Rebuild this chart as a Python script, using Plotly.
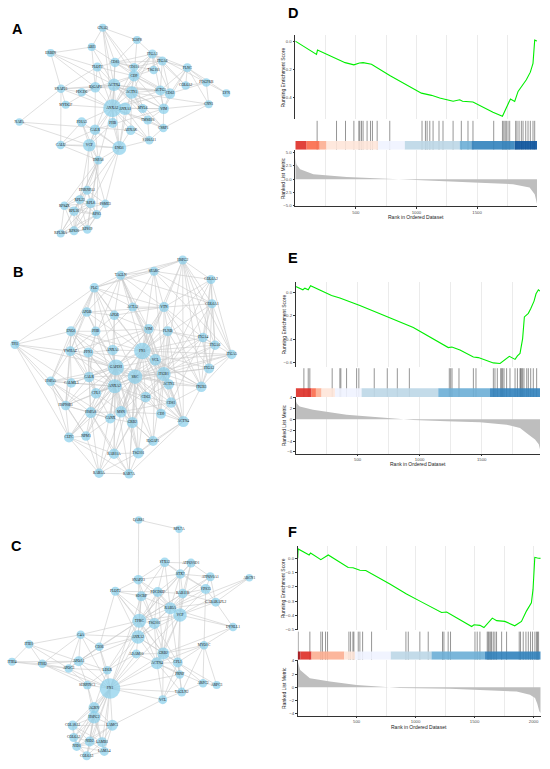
import plotly.graph_objects as go

W, H = 550, 769

# ---------------- network A ----------------
A_genes = ["GNAQ","IGSF8","ABI1","ERBIN","ITGA3","ITGA6","CD81","CD151","FLOT1","TSG101",
           "FLNC","CD9","PDGFRB","LYN","COL6A2","IQGAP1","ACTN4","SNAP23","PDCD6","ACTN1",
           "ACTG1","CD63","MYDGF","ANXA2","ANXA1","MYL6","VIM","CNN1","NAPA","PDIA3",
           "PHB","TMSB10","CSRP1","CALR","AHNAK","S100A11","CALU","VCP","ENO1","HSPA8",
           "HNRNPA1","RPL23","RPL8","PSME3","RPS4X","RPL30","RPS3","RPL36A","RPS20","RPS19"]
A_x = [102.7,137,91.7,50.7,152.3,162.3,115,134,97.3,153.7,187.3,134,206.3,226.3,185.7,95.3,114,61,81.7,131.7,
       160.3,170,65.7,112.3,125,142.7,163.7,208.7,19.3,81.7,112.7,147.7,163.3,95,130.7,149.3,60.7,89.3,119.3,98.3,
       87,79.7,90.7,105.3,64.3,74,96.7,60.7,74,87.3]
A_y = [26,38.3,45.3,51.3,52.3,59.3,60.7,65.7,65.3,68.3,66,74.3,81,91.7,84,85.7,83.3,87.3,90.7,91,
       89,92,103.3,106.7,107.3,107,107.3,102.7,120.7,120.7,121.7,118.7,126.7,128.3,129,139,143.7,144,146.7,159,
       189.3,198.7,202.3,202.7,204.7,210.3,213.7,232.7,230,228.7]
A_degree = [4,4,4,4,6,6,7,5,6,5,6,10,5,4,5,9,13,5,5,13,8,9,4,24,13,6,9,4,3,7,
            8,6,5,9,7,5,5,13,16,5,6,6,8,5,5,7,6,4,6,5]
A_links = [
    ("ANXA2", "ACTN4 ACTN1 CD9 CD81 IQGAP1 ANXA1 MYL6 VIM PHB CALR ENO1 VCP PDIA3 AHNAK S100A11 TMSB10 CD63 ACTG1 FLOT1 PDCD6 SNAP23 CD151 ITGA3 GNAQ CSRP1 HSPA8 MYDGF"),
    ("ENO1", "PHB CALR VCP PDIA3 HSPA8 AHNAK S100A11 ANXA1 HNRNPA1 RPL8 PSME3 CD9 ACTN4 CALU"),
    ("VCP", "CALR PDIA3 HSPA8 HNRNPA1 RPL23 PSME3 CALU PHB ACTN4 NAPA"),
    ("HSPA8", "PDIA3 CALR HNRNPA1 RPL23 RPS4X RPL30 RPL8 RPS3 RPS19 CALU"),
    ("HNRNPA1", "RPL23 RPL8 PSME3 RPS4X RPL30 RPS3 RPS20"),
    ("RPL23", "RPL8 RPS4X RPL30 RPS3 RPL36A RPS20 RPS19"),
    ("RPL8", "PSME3 RPS4X RPL30 RPS3 RPL36A RPS20 RPS19"),
    ("PSME3", "RPS3 RPL30 RPS19"),
    ("RPS4X", "RPL30 RPS3 RPL36A RPS20 RPS19"),
    ("RPL30", "RPS3 RPL36A RPS20 RPS19"),
    ("RPS3", "RPL36A RPS20 RPS19"),
    ("RPL36A", "RPS20 RPS19"),
    ("RPS20", "RPS19"),
    ("CD9", "CD81 CD151 CD63 ITGA3 ITGA6 TSG101 ACTN1 ACTN4 FLOT1 IQGAP1 IGSF8 VIM ACTG1 MYL6 GNAQ"),
    ("CD81", "CD151 IGSF8 ITGA3 ITGA6 FLOT1 CD63 TSG101 ABI1 GNAQ ACTN4"),
    ("ITGA3", "ITGA6 CD151 FLNC PDGFRB COL6A2 IGSF8 TSG101 ACTN1 VIM CD63"),
    ("ITGA6", "FLNC CD151 ACTG1 COL6A2 CD63"),
    ("FLNC", "PDGFRB COL6A2 ACTG1 CD63 VIM CNN1 LYN"),
    ("PDGFRB", "LYN COL6A2 CNN1 CD63"),
    ("VIM", "CNN1 ACTG1 CD63 MYL6 TMSB10 CSRP1 ACTN1 ACTN4 CALR"),
    ("ACTN4", "ACTN1 IQGAP1 ACTG1 MYL6 CSRP1 TMSB10 FLOT1 GNAQ ABI1 ERBIN SNAP23 CD63 PDCD6 PHB"),
    ("ACTN1", "ACTG1 MYL6 CSRP1 TMSB10 CNN1 AHNAK"),
    ("IQGAP1", "FLOT1 ABI1 PDCD6 SNAP23 ERBIN ACTG1 CALR MYDGF"),
    ("SNAP23", "ERBIN NAPA FLOT1 PDCD6 CALU MYDGF"),
    ("ERBIN", "ABI1 FLOT1"),
    ("GNAQ", "IGSF8 CD151 ABI1"),
    ("CALU", "CALR PDIA3"),
    ("CSRP1", "TMSB10 CNN1 S100A11"),
    ("S100A11", "AHNAK ANXA1 TMSB10"),
    ("NAPA", "AHNAK"),
]

# ---------------- network B ----------------
B_genes = ["HSPG2","TAGLN","SPARC","COL6A2","PLG","ACTA2","VTN","COL6A1","APOB","APOE",
           "VIM","FLNB","ENO1","PHB","ITGA4","ITGA6","TPI1","YWHAZ","PFN1","ANXA1",
           "FN1","VCL","ITGA5","GAPDH","ITGA2","SRC","ITGB1","HSPA5","CALR","CALML3",
           "ACTN1","ANXA2","ITGB3","CFL1","CD63","CD81","HSP90B1","HSPA8","MSN","CD9",
           "CANX","ACTN4","GRB2","CLTC","NPM1","IQGAP1","RAB11A","TSG101","RAB5A","RAB7A"]
B_x = [182.7,120.7,154,211,94.3,132.7,164,212,86.7,114.3,148.7,167.7,71,95.7,203,215,15,70.3,88.3,112.7,
       142.3,155.3,231.7,116,209,135,163.7,50.7,89,71.3,168.7,114.7,201.3,96,145.7,171,65.7,90.7,121,161,
       110.3,183.3,132.3,69,86,153,114,138.3,99,129]
B_y = [259.3,274.7,270.7,279,287.3,306.7,306.7,303.3,311.7,315,328.7,331,331,331,337.3,345,344.3,351,352.3,349.7,
       350.7,359.7,354.3,367.3,368.3,376.7,374,381.3,377,383,384.3,386.3,386.7,393.3,397,402.7,405.7,412.7,412,414,
       418.7,421.7,422.7,437.7,436.3,441.3,454,453.3,473.7,474.3]
B_degree = [6,6,6,6,7,6,8,6,7,7,8,8,8,7,7,7,6,8,8,9,21,11,7,20,8,17,16,7,9,7,
            9,16,9,9,9,9,7,10,11,8,8,10,10,8,7,8,9,10,7,7]
B_links = [
    ("FN1", "HSPG2 TAGLN SPARC COL6A2 PLG VTN COL6A1 APOB APOE VIM FLNB ITGA4 ITGA6 ANXA1 VCL ITGA5 GAPDH ITGA2 SRC ITGB1 CALR ACTN1 ANXA2 ITGB3 CD63 CD81 HSPA8 MSN CD9 ACTN4 GRB2 ENO1"),
    ("GAPDH", "TPI1 ENO1 PHB YWHAZ PFN1 ANXA1 SRC ANXA2 CALR CALML3 HSPA5 CFL1 HSPA8 HSP90B1 MSN CANX GRB2 NPM1 CLTC VIM APOB PLG ACTN1 ITGB1 VCL IQGAP1 ACTN4 CD63 TSG101 RAB11A"),
    ("SRC", "ITGB1 ITGB3 ITGA2 ITGA5 ANXA2 GRB2 MSN CD63 CD81 CD9 ACTN1 ACTN4 VCL IQGAP1 TSG101 RAB11A RAB5A RAB7A CFL1 YWHAZ VTN PLG ITGA4 ITGA6 HSP90B1 CLTC CANX"),
    ("ITGB1", "ITGA4 ITGA6 ITGA5 ITGA2 ITGB3 VCL ACTN1 ACTN4 CD81 CD9 CD63 FLNB VTN COL6A1 COL6A2 SPARC HSPG2 TAGLN MSN IQGAP1 GRB2 VIM CALR ANXA2"),
    ("ANXA2", "ANXA1 CALR CFL1 HSPA8 MSN CANX CALML3 PFN1 YWHAZ HSP90B1 HSPA5 NPM1 CLTC RAB11A TSG101 RAB5A RAB7A GRB2 CD63 ACTN4 PHB ENO1 APOE"),
    ("VCL", "ACTN1 ACTN4 FLNB VIM TAGLN ACTA2 CFL1 PFN1 MSN IQGAP1 ITGB3 ITGA5 CD9"),
    ("HSPG2", "SPARC COL6A2 COL6A1 VTN TAGLN PLG ITGA6 ITGA5 ITGA2 ITGB3 ACTN4"),
    ("SPARC", "TAGLN COL6A2 COL6A1 VTN ACTA2 PLG ITGA5"),
    ("TAGLN", "PLG ACTA2 VIM VTN APOB APOE COL6A1 PFN1"),
    ("COL6A2", "COL6A1 ITGA4 ITGA6 ITGA5 ITGB3 VTN"),
    ("COL6A1", "ITGA4 ITGA6 ITGA5 ITGA2 VTN"),
    ("PLG", "APOB APOE ENO1 TPI1 VTN ACTA2 PHB HSPA5 YWHAZ"),
    ("APOB", "APOE ENO1 PHB VTN YWHAZ"),
    ("APOE", "VTN PHB ANXA1 VIM"),
    ("VTN", "ITGA4 ITGA2 ITGB3 FLNB VIM ACTA2"),
    ("VIM", "FLNB ACTA2 ANXA1 MSN CFL1 YWHAZ PHB ACTN4"),
    ("FLNB", "ITGA4 ITGA6 ITGB3 ACTN1 ACTN4"),
    ("ENO1", "PHB YWHAZ PFN1 TPI1 HSPA5 CALR HSP90B1 ANXA1"),
    ("TPI1", "YWHAZ HSPA5 CALML3 HSP90B1 CLTC"),
    ("YWHAZ", "PFN1 HSPA5 CALR CALML3 HSP90B1 CFL1 PHB"),
    ("PFN1", "ANXA1 CFL1 CALR HSPA8 ACTA2"),
    ("CALR", "CANX HSPA5 HSP90B1 HSPA8 CALML3 CFL1 PHB"),
    ("HSPA5", "CALML3 HSP90B1 HSPA8 CLTC NPM1 CANX"),
    ("HSP90B1", "HSPA8 CLTC NPM1 CANX CALML3"),
    ("HSPA8", "CLTC NPM1 CANX MSN RAB11A RAB5A RAB7A CFL1"),
    ("CLTC", "NPM1 RAB5A RAB11A RAB7A"),
    ("NPM1", "RAB5A CANX"),
    ("MSN", "CANX GRB2 CD9 CD81 IQGAP1 CFL1"),
    ("CD63", "CD81 CD9 TSG101 RAB11A GRB2 ACTN1"),
    ("CD81", "CD9 ITGB3 ACTN4 ITGA4"),
    ("ITGB3", "ITGA2 ITGA5 ACTN4 ITGA6 ACTN1"),
    ("ITGA2", "ITGA5 ITGA6 ITGA4"),
    ("ITGA4", "ITGA6 ITGA5"),
    ("ACTN4", "ACTN1 IQGAP1 TSG101 RAB7A CD9"),
    ("GRB2", "IQGAP1 TSG101 RAB11A RAB7A CANX"),
    ("TSG101", "RAB11A RAB7A RAB5A IQGAP1"),
    ("RAB11A", "RAB5A RAB7A"),
    ("RAB5A", "RAB7A"),
]

# ---------------- network C ----------------
C_genes = ["QARS1","RPL7A","STX12","ATP6V0D1","STX7","ATP6V0A1","ARCN1","SNAP23","FLOT2","SDCBP",
           "PDCD6IP","RAB11B","VPS35","GABARAPL2","RAB5A","VCP","TFRC","TSG101","DYNLL1","C4A",
           "ANXA2","MYO1C","ITIH1","CD36","ADAM10","GRB2","CFL1","ACTN4","ITIH4","ITIH2",
           "APOA1","APOC3","LDLR","PRNP","SERPINC1","FN1","ARPC2","ARPC3","TAGLN2","VCL",
           "AGRN","HSPG2","LAMC1","COL18A1","COL6A2","NID2","LAMB1","NID1","LAMA4","COL6A3"]
C_x = [138.7,179,164.7,191,180.3,210.3,249.3,138.3,115.3,141.3,157.7,182.7,205.7,215.7,170.3,180,139.3,154.3,233,80.7,
       138,204,29,99.3,136.3,163.3,177.7,157,12,42.3,78.7,68.7,107.3,179.7,87.3,110,203,216.7,181.7,162.7,
       94,94,112.3,72.7,73.7,89.7,102,76.7,104.3,86.7]
C_y = [520.7,530,563.3,564,575,577.7,578.7,580.7,592.3,597.3,593,594.7,590,603.3,609.3,616.3,622,624.7,628.3,636,
       638.3,646.7,645.7,648,655.3,655,664,664.7,663.3,665.3,662.7,670,671.7,676,686.7,690,684.7,686.7,693.7,701.3,
       709.3,719,727,727.3,739.3,743.3,744,748.3,753.3,757.7]
C_degree = [3,3,7,6,7,6,3,7,6,8,8,7,8,6,12,15,16,10,5,5,15,5,5,5,6,12,8,12,4,5,
            8,5,5,5,5,29,5,4,6,6,10,13,10,8,6,8,8,6,6,6]
C_links = [
    ("QARS1", "RPL7A SNAP23"),
    ("RPL7A", "VCP"),
    ("STX12", "STX7 SNAP23 ATP6V0D1 RAB5A VPS35 SDCBP PDCD6IP"),
    ("ATP6V0D1", "ATP6V0A1 STX7 RAB11B VCP TFRC"),
    ("STX7", "SNAP23 RAB11B RAB5A VPS35 TFRC PDCD6IP ATP6V0A1"),
    ("ATP6V0A1", "GABARAPL2 VPS35 RAB5A TFRC"),
    ("ARCN1", "VCP GABARAPL2 RAB5A"),
    ("SNAP23", "FLOT2 SDCBP PDCD6IP RAB5A TFRC TSG101"),
    ("FLOT2", "SDCBP PDCD6IP TFRC ANXA2 TSG101 GRB2 CD36"),
    ("SDCBP", "PDCD6IP TSG101 TFRC RAB5A ANXA2 FN1"),
    ("PDCD6IP", "TSG101 RAB5A VCP TFRC RAB11B ANXA2 GRB2"),
    ("RAB11B", "RAB5A VCP TFRC VPS35 GABARAPL2"),
    ("VPS35", "RAB5A VCP GABARAPL2 MYO1C"),
    ("GABARAPL2", "VCP DYNLL1 RAB5A"),
    ("RAB5A", "VCP TFRC TSG101 GRB2 ACTN4 CFL1 ANXA2 DYNLL1"),
    ("VCP", "TFRC TSG101 GRB2 ACTN4 CFL1 ANXA2 FN1 DYNLL1 PRNP"),
    ("TFRC", "TSG101 ANXA2 C4A CD36 GRB2 LDLR FN1 ACTN4 APOA1"),
    ("TSG101", "ANXA2 GRB2 ACTN4 CFL1"),
    ("DYNLL1", "MYO1C GRB2"),
    ("C4A", "ITIH1 ITIH2 APOA1 APOC3 FN1 CD36 ANXA2"),
    ("ANXA2", "ADAM10 GRB2 ACTN4 CD36 CFL1 FN1 LDLR APOA1"),
    ("MYO1C", "CFL1 ACTN4 ARPC2 ARPC3 GRB2 TAGLN2"),
    ("ITIH1", "ITIH4 ITIH2 APOA1 APOC3"),
    ("ITIH4", "ITIH2 APOA1 APOC3"),
    ("ITIH2", "APOA1 APOC3 SERPINC1 FN1"),
    ("CD36", "APOA1 LDLR FN1 APOC3"),
    ("ADAM10", "GRB2 ACTN4 FN1 LDLR"),
    ("GRB2", "ACTN4 CFL1 FN1 VCL PRNP"),
    ("ACTN4", "CFL1 FN1 VCL PRNP TAGLN2 ARPC2"),
    ("CFL1", "PRNP ARPC2 ARPC3 TAGLN2 VCL"),
    ("APOA1", "APOC3 LDLR SERPINC1 FN1"),
    ("APOC3", "LDLR SERPINC1 FN1"),
    ("LDLR", "FN1 SERPINC1 AGRN"),
    ("PRNP", "VCL TAGLN2 FN1"),
    ("SERPINC1", "FN1 HSPG2 AGRN"),
    ("FN1", "VCL AGRN HSPG2 LAMC1 COL18A1 COL6A2 NID2 LAMB1 NID1 LAMA4 COL6A3 TAGLN2"),
    ("ARPC2", "ARPC3 TAGLN2"),
    ("TAGLN2", "VCL"),
    ("VCL", "LAMC1"),
    ("AGRN", "HSPG2 LAMC1 COL18A1 NID2 LAMB1 NID1"),
    ("HSPG2", "LAMC1 COL18A1 COL6A2 NID2 LAMB1 NID1 LAMA4 COL6A3"),
    ("LAMC1", "LAMB1 LAMA4 NID2 NID1 COL18A1"),
    ("COL18A1", "COL6A2 NID1 NID2 LAMB1"),
    ("COL6A2", "NID1 COL6A3 NID2"),
    ("NID2", "LAMB1 NID1 LAMA4 COL6A3"),
    ("LAMB1", "LAMA4 NID1 COL6A3"),
    ("NID1", "COL6A3 LAMA4"),
    ("LAMA4", "COL6A3"),
]

# ---------------- GSEA D ----------------
D_n = 1994
D_es_rank = [1, 176, 184, 341, 412, 484, 530, 560, 629, 780, 1041, 1124, 1192, 1302, 1357, 1380, 1466,
             1631, 1709, 1775, 1810, 1838, 1874, 1906, 1939, 1961, 1975, 1994]
D_es = [0.0, -0.095, -0.064, -0.128, -0.154, -0.17, -0.156, -0.154, -0.166, -0.246, -0.372, -0.388, -0.407,
        -0.43, -0.42, -0.43, -0.435, -0.509, -0.537, -0.414, -0.431, -0.36, -0.312, -0.277, -0.222, -0.159, 0.007, 0.0]
D_hits = [181, 341, 415, 484, 525, 533, 547, 560, 593, 621, 637, 676, 780, 1046, 1074, 1088, 1110, 1137,
          1186, 1219, 1302, 1370, 1425, 1466, 1637, 1709, 1720, 1731, 1741, 1755, 1769, 1818, 1829, 1846,
          1865, 1879, 1901, 1920, 1939, 1961, 1975]
D_band_edges = [1, 94, 202, 258, 684, 904, 1357, 1453, 1810, 1994]
D_band_colors = ["#DE2D26", "#FB6A4A", "#FCAE91", "#FEE5D9", "#EFF3FF", "#BDD7E7", "#6BAED6", "#3182BD", "#08519C"]
D_metric_rank = [1, 10, 41, 150, 425, 700, 900, 1200, 1521, 1796, 1933, 1975, 1990, 1994]
D_metric = [4.0, 2.8, 1.87, 0.94, 0.43, 0.19, 0.0, -0.3, -0.64, -0.94, -1.57, -2.8, -4.0, -4.6]
D_es_ticks = [-0.4, -0.2, 0.0]
D_metric_ticks = [-5.0, -2.5, 0.0, 2.5, 5.0]
D_rank_ticks = [500, 1000, 1500]

# ---------------- GSEA E ----------------
E_n = 1970
E_es_rank = [1, 59, 75, 102, 121, 290, 357, 411, 518, 680, 949, 1231, 1260, 1325, 1433, 1473, 1594, 1648,
             1723, 1769, 1788, 1809, 1830, 1844, 1876, 1895, 1922, 1938, 1957, 1970]
E_es = [0.048, 0.02, 0.034, 0.02, 0.054, -0.028, -0.05, -0.07, -0.113, -0.183, -0.30, -0.47, -0.465, -0.49,
        -0.55, -0.555, -0.60, -0.605, -0.544, -0.57, -0.54, -0.52, -0.394, -0.21, -0.18, -0.14, -0.076, -0.014, 0.02, 0.008]
E_hits = [67, 102, 115, 295, 357, 365, 411, 492, 510, 634, 739, 820, 917, 1239, 1250, 1261, 1317, 1433,
          1454, 1594, 1607, 1626, 1653, 1661, 1669, 1680, 1701, 1728, 1769, 1788, 1809, 1814, 1822, 1830,
          1841, 1863, 1876, 1895, 1916, 1943]
E_band_edges = [1, 129, 164, 209, 317, 532, 1150, 1567, 1970]
E_band_colors = ["#DE2D26", "#FB6A4A", "#FCAE91", "#FEE5D9", "#EFF3FF", "#BDD7E7", "#6BAED6", "#3182BD"]
E_metric_rank = [1, 10, 33, 141, 411, 680, 949, 1218, 1486, 1701, 1809, 1876, 1930, 1960, 1970]
E_metric = [3.45, 2.9, 2.36, 1.76, 0.85, 0.36, -0.12, -0.36, -0.55, -0.97, -1.58, -2.8, -3.7, -4.6, -5.5]
E_es_ticks = [-0.6, -0.4, -0.2, 0.0]
E_metric_ticks = [-6, -4, -2, 0, 2, 4]
E_rank_ticks = [500, 1000, 1500]

# ---------------- GSEA F ----------------
F_n = 2060
F_es_rank = [1, 5, 98, 110, 197, 260, 429, 470, 528, 578, 782, 923, 1037, 1121, 1220, 1263, 1291, 1475,
             1495, 1545, 1579, 1650, 1687, 1756, 1840, 1897, 1939, 1981, 1995, 2010, 2032, 2060]
F_es = [0.0, 0.066, 0.024, 0.038, -0.009, 0.024, -0.064, -0.066, -0.083, -0.085, -0.18, -0.25, -0.30, -0.336,
        -0.38, -0.376, -0.39, -0.478, -0.466, -0.47, -0.485, -0.419, -0.437, -0.442, -0.473, -0.442, -0.37,
        -0.312, -0.218, 0.007, 0.002, 0.0]
F_hits = [5, 104, 197, 211, 237, 254, 435, 449, 469, 477, 514, 528, 551, 627, 918, 938, 1036, 1107, 1228,
          1240, 1276, 1296, 1503, 1522, 1545, 1607, 1616, 1624, 1636, 1644, 1658, 1672, 1686, 1729, 1771,
          1878, 1889, 1912, 1935, 1955, 1974, 1991, 2011, 2025, 2033, 2042]
F_band_edges = [1, 25, 118, 395, 486, 790, 1135, 1587, 2060]
F_band_colors = ["#A50F15", "#DE2D26", "#FCAE91", "#FEE5D9", "#EFF3FF", "#BDD7E7", "#6BAED6", "#3182BD"]
F_metric_rank = [1, 22, 104, 274, 500, 754, 867, 1291, 1573, 1856, 1969, 2012, 2031, 2048, 2060]
F_metric = [3.95, 2.6, 1.35, 0.85, 0.35, 0.05, -0.1, -0.25, -0.4, -0.65, -1.15, -1.65, -2.5, -3.65, -3.9]
F_es_ticks = [-0.5, -0.4, -0.3, -0.2, -0.1, 0.0]
F_metric_ticks = [-4, -2, 0, 2, 4]
F_rank_ticks = [500, 1000, 1500, 2000]

fig = go.Figure()
layout = {}
shapes = []
annotations = []


def px2x(a):
    return a / W


def px2y(b):
    return 1 - b / H


def xdom(a, b):
    return [max(0, px2x(a)), min(1, px2x(b))]


def ydom(top, bottom):
    return [max(0, px2y(bottom)), min(1, px2y(top))]


def names(k):
    if k == 1:
        return "x", "y", "xaxis", "yaxis"
    return f"x{k}", f"y{k}", f"xaxis{k}", f"yaxis{k}"


def note(text, x, y, size, angle=0, bold=False, color="#222222"):
    annotations.append(dict(text=f"<b>{text}</b>" if bold else text, x=px2x(x), y=px2y(y),
                            xref="paper", yref="paper", showarrow=False, textangle=angle,
                            xanchor="center", yanchor="middle",
                            font=dict(family="Liberation Sans, Arial", size=size, color=color)))


def add_network(k, genes, xs, ys, degree, links, box):
    left, top, right, bottom = box
    xa, ya, xk, yk = names(k)
    pos = dict(zip(genes, zip(xs, ys)))
    ex, ey = [], []
    for a, targets in links:
        for b in targets.split():
            if a in pos and b in pos:
                ex += [pos[a][0], pos[b][0], None]
                ey += [pos[a][1], pos[b][1], None]
    fig.add_trace(go.Scatter(x=ex, y=ey, mode="lines", line=dict(color="#C9C9C9", width=0.6),
                             hoverinfo="skip", showlegend=False, cliponaxis=False, xaxis=xa, yaxis=ya))
    fig.add_trace(go.Scatter(x=xs, y=ys, mode="markers+text", text=genes, textposition="middle center",
                             marker=dict(size=[6 + 0.5 * d for d in degree], color="#87CEEB", line=dict(width=0)),
                             textfont=dict(family="Liberation Serif", size=3.6, color="#1A1A1A"),
                             showlegend=False, cliponaxis=False, xaxis=xa, yaxis=ya))
    layout[xk] = dict(domain=xdom(left, right), range=[left, right], visible=False, anchor=ya)
    layout[yk] = dict(domain=ydom(top, bottom), range=[bottom, top], visible=False, anchor=xa)


tickfont = dict(family="Liberation Sans, Arial", size=4.3, color="#4D4D4D")
grid = dict(showgrid=True, gridcolor="#EBEBEB", gridwidth=0.5)
minor = dict(tickmode="linear", tick0=0, dtick=250, showgrid=True, gridcolor="#EBEBEB", gridwidth=0.5)


def add_gsea(k, geo, n, es_rank, es, hits, band_edges, band_colors, m_rank, m,
             es_ticks, m_ticks, rank_ticks, es_fmt, m_fmt):
    left, right = geo["x"]
    # running enrichment score
    xa, ya, xk, yk = names(k)
    fig.add_trace(go.Scatter(x=es_rank, y=es, mode="lines", line=dict(color="#00EE00", width=1.1),
                             showlegend=False, xaxis=xa, yaxis=ya))
    layout[xk] = dict(domain=xdom(left, right), range=[1, n], anchor=ya, showticklabels=False, ticks="",
                      tickmode="array", tickvals=rank_ticks, zeroline=False, minor=minor, **grid)
    layout[yk] = dict(domain=ydom(*geo["score"]), range=list(geo["score_range"]), anchor=xa,
                      tickmode="array", tickvals=es_ticks, tickformat=es_fmt, tickfont=tickfont,
                      ticks="outside", ticklen=2, tickwidth=0.5, tickcolor="#333333",
                      showline=True, linecolor="#333333", linewidth=0.6, showgrid=False, zeroline=False)
    # hits + colour band
    xa, ya, xk, yk = names(k + 1)
    hx, hy = [], []
    for h in hits:
        hx += [h, h, None]
        hy += [0, 1, None]
    fig.add_trace(go.Scatter(x=hx, y=hy, mode="lines", line=dict(color="rgba(0,0,0,0.6)", width=0.7),
                             showlegend=False, xaxis=xa, yaxis=ya))
    for i, col in enumerate(band_colors):
        shapes.append(dict(type="rect", xref=xa, yref=ya, x0=band_edges[i], x1=band_edges[i + 1],
                           y0=0, y1=0.3, fillcolor=col, opacity=0.9, line=dict(width=0), layer="above"))
    layout[xk] = dict(domain=xdom(left, right), range=[1, n], anchor=ya, visible=False)
    layout[yk] = dict(domain=ydom(*geo["hits"]), range=[0, 1.05], anchor=xa, visible=False)
    # ranked list metric
    xa, ya, xk, yk = names(k + 2)
    fig.add_trace(go.Scatter(x=m_rank, y=m, mode="lines", fill="tozeroy", fillcolor="#BEBEBE",
                             line=dict(width=0, color="#BEBEBE"), showlegend=False, xaxis=xa, yaxis=ya))
    layout[xk] = dict(domain=xdom(left, right), range=[1, n], anchor=ya, tickmode="array", tickvals=rank_ticks,
                      tickfont=tickfont, ticks="outside", ticklen=1.5, tickwidth=0.5, tickcolor="#333333",
                      showline=True, linecolor="#333333", linewidth=0.6, zeroline=False, minor=minor, **grid)
    layout[yk] = dict(domain=ydom(*geo["metric"]), range=list(geo["metric_range"]), anchor=xa,
                      tickmode="array", tickvals=m_ticks, tickformat=m_fmt, tickfont=tickfont,
                      ticks="outside", ticklen=2, tickwidth=0.5, tickcolor="#333333",
                      showline=True, linecolor="#333333", linewidth=0.6, showgrid=False, zeroline=False)
    # axis titles
    st, sb = geo["score"]
    mt, mb = geo["metric"]
    note("Running Enrichment Score", geo["ytitle_x"], (st + sb) / 2, 5, angle=-90)
    note("Ranked List Metric", geo["ytitle_x"], (mt + mb) / 2, 5, angle=-90)
    note("Rank in Ordered Dataset", (left + right) / 2, geo["xtitle_y"], 5)


add_network(1, A_genes, A_x, A_y, A_degree, A_links, (0, 10, 250, 245))
add_network(2, B_genes, B_x, B_y, B_degree, B_links, (0, 250, 250, 495))
add_network(3, C_genes, C_x, C_y, C_degree, C_links, (0, 505, 260, 769))

D_geo = dict(x=(295.3, 537), score=(33, 118), hits=(118, 148.5), metric=(148.5, 205.3),
             score_range=(-0.56, 0.045), metric_range=(-5.06, 5.52), ytitle_x=283.3, xtitle_y=216.3)
E_geo = dict(x=(295.7, 540), score=(281.7, 366.7), hits=(366.7, 397), metric=(397, 454),
             score_range=(-0.633, 0.084), metric_range=(-6.31, 4.13), ytitle_x=284, xtitle_y=464.3)
F_geo = dict(x=(297.7, 540.7), score=(546.7, 631.5), hits=(631.5, 661.3), metric=(661.3, 717.3),
             score_range=(-0.504, 0.0875), metric_range=(-4.3, 4.15), ytitle_x=283.3, xtitle_y=728.3)

add_gsea(4, D_geo, D_n, D_es_rank, D_es, D_hits, D_band_edges, D_band_colors, D_metric_rank, D_metric,
         D_es_ticks, D_metric_ticks, D_rank_ticks, ".1f", ".1f")
add_gsea(7, E_geo, E_n, E_es_rank, E_es, E_hits, E_band_edges, E_band_colors, E_metric_rank, E_metric,
         E_es_ticks, E_metric_ticks, E_rank_ticks, ".1f", "d")
add_gsea(10, F_geo, F_n, F_es_rank, F_es, F_hits, F_band_edges, F_band_colors, F_metric_rank, F_metric,
         F_es_ticks, F_metric_ticks, F_rank_ticks, ".1f", "d")

for letter, lx, ly in [("A", 17.3, 27.3), ("B", 18.3, 271.7), ("C", 16.7, 546.7),
                       ("D", 293.3, 11.5), ("E", 292.7, 257), ("F", 292.7, 533)]:
    note(letter, lx, ly, 14.5, bold=True, color="black")

fig.update_layout(width=W, height=H, margin=dict(l=0, r=0, t=0, b=0), paper_bgcolor="white",
                  plot_bgcolor="white", showlegend=False, shapes=shapes, annotations=annotations, **layout)
# drop the browser's default body margin so the 550x769 figure fills the window exactly
fig.write_html("out.html", config={"displayModeBar": False},
               post_script="document.body.style.margin='0';")
